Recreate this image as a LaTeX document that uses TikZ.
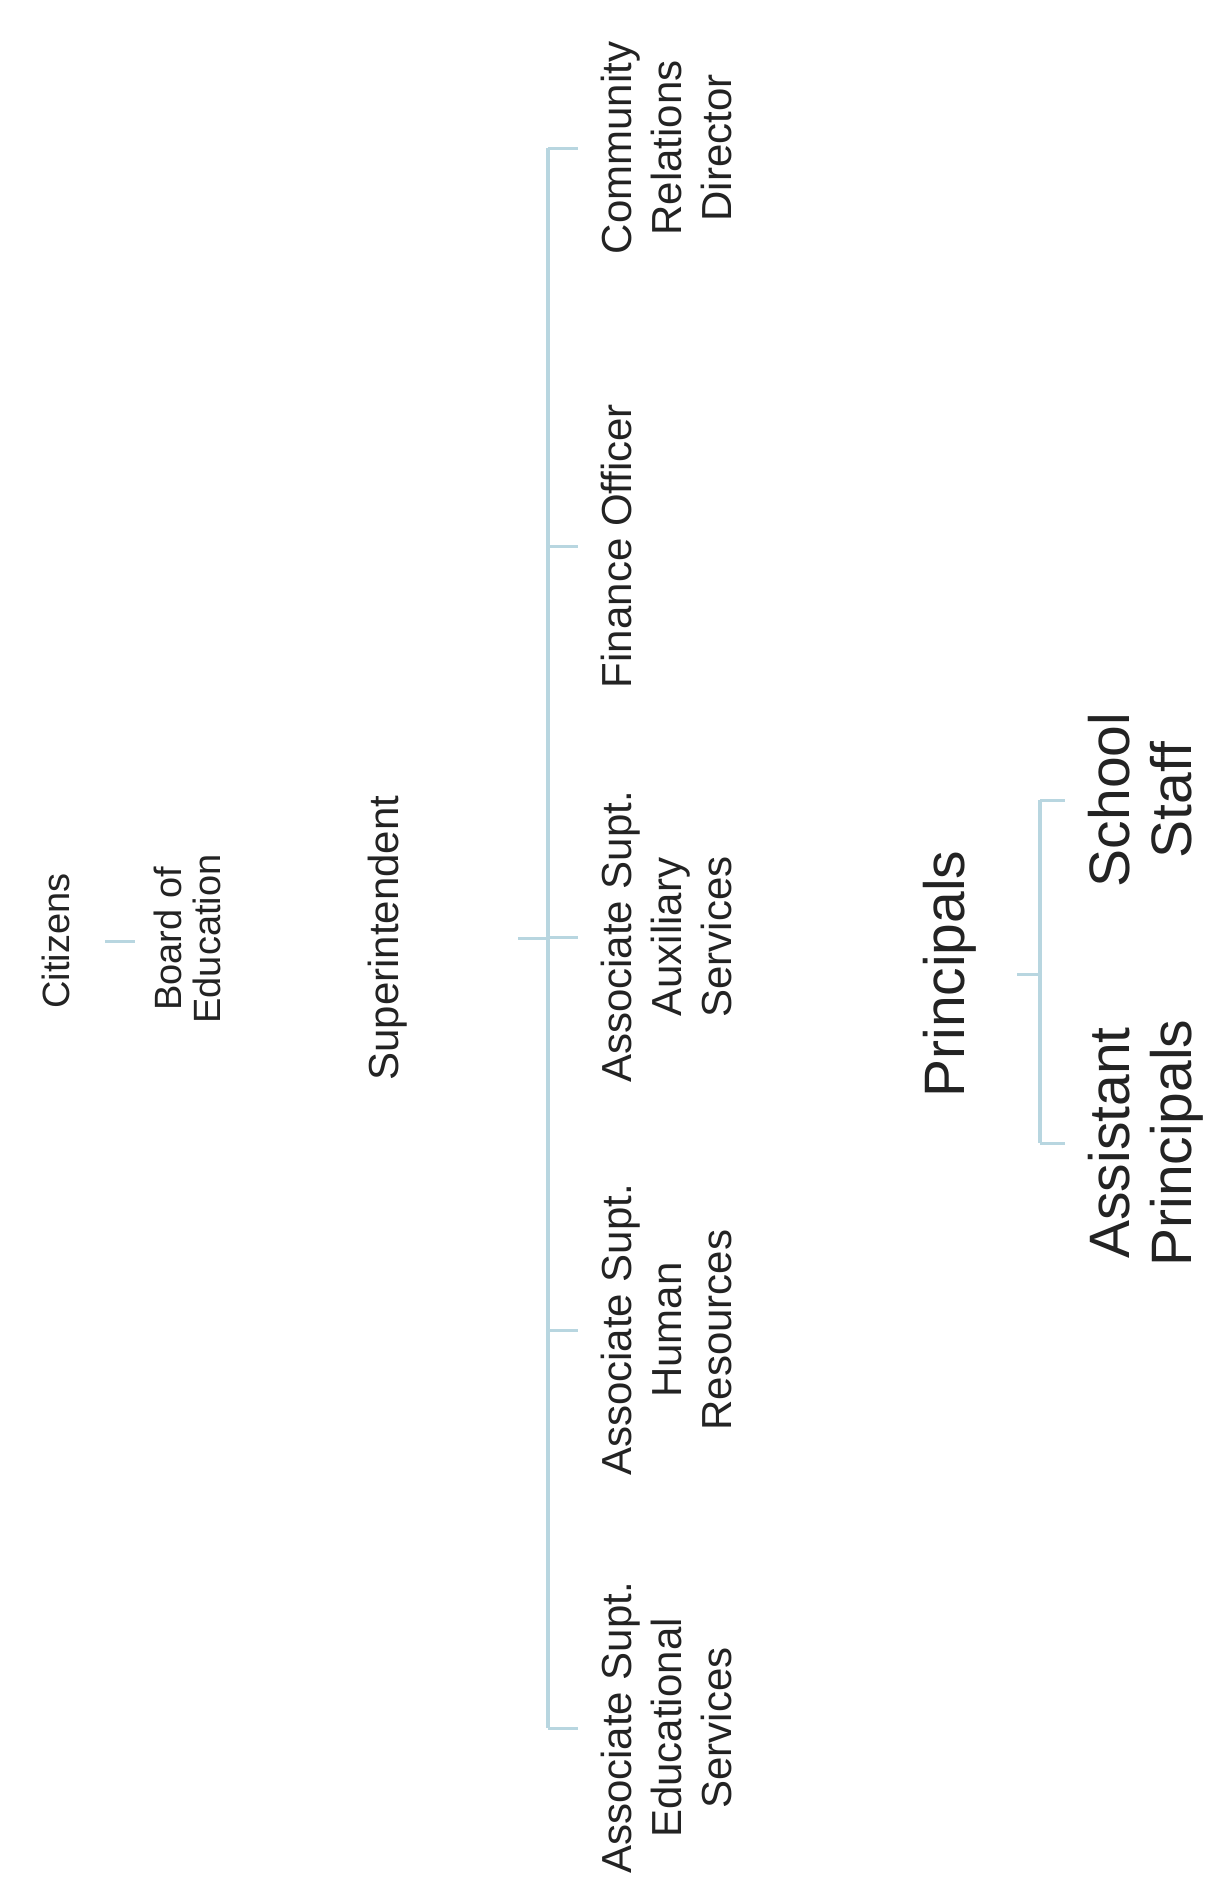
\documentclass[tikz,border=0pt]{standalone}
\usepackage{fontspec}
\setmainfont{Liberation Sans}
\usetikzlibrary{calc}
\definecolor{linecol}{RGB}{184,214,224}
\definecolor{txtcol}{RGB}{35,35,35}
\begin{document}
\begin{tikzpicture}[x=1pt,y=-1pt,
  lbl/.style={rotate=90,anchor=north,inner sep=0pt,align=center,text=txtcol},
  lblsmall/.style={lbl,font=\fontsize{38}{39}\selectfont},
  lblmid/.style={lbl,font=\fontsize{42}{50}\selectfont},
  lblbig/.style={lbl,font=\fontsize{57}{62}\selectfont},
  spine/.style={draw=linecol,line width=4.5pt},
  tick/.style={draw=linecol,line width=3pt}]
\useasboundingbox (0,0) rectangle (1217,1891);
\fill[white] (0,0) rectangle (1217,1891);
% nodes
\node[lblsmall] (cit) at (42,941) {Citizens};
\node[lblsmall] (boe) at (154,939) {Board of\\Education};
\node[lblmid] (sup) at (368,938) {Superintendent};
\node[lblmid] (edu) at (601,1728) {Associate Supt.\\Educational\\Services};
\node[lblmid] (hr) at (601,1330) {Associate Supt.\\Human\\Resources};
\node[lblmid] (aux) at (601,937) {Associate Supt.\\Auxiliary\\Services};
\node[lblmid] (fin) at (601,546) {Finance Officer};
\node[lblmid] (crd) at (601,148) {Community\\Relations\\Director};
\node[lblbig] (pri) at (923,974) {Principals};
\node[lblbig] (ap) at (1088,1143) {Assistant\\Principals};
\node[lblbig] (ss) at (1088,800) {School\\Staff};
% junction coordinates
\coordinate (stop) at (548,148);
\coordinate (ptop) at (1040,800);
% citizens - board
\draw[tick,shorten <=35pt,shorten >=19pt] (cit.south) -- (cit.south -| boe.north);
% superintendent bracket
\draw[spine] (crd.north -| stop) -- (edu.north -| stop);
\draw[tick] (sup.south -| stop) -- ++(-30,0);
\foreach \c in {edu,hr,aux,fin,crd}{
  \draw[tick] (\c.north -| stop) -- ++(30,0);
}
% principals bracket
\draw[spine] (ss.north -| ptop) -- (ap.north -| ptop);
\draw[tick] (pri.north -| ptop) -- ++(-23,0);
\draw[tick] (ss.north -| ptop) -- ++(25,0);
\draw[tick] (ap.north -| ptop) -- ++(25,0);
\end{tikzpicture}
\end{document}
